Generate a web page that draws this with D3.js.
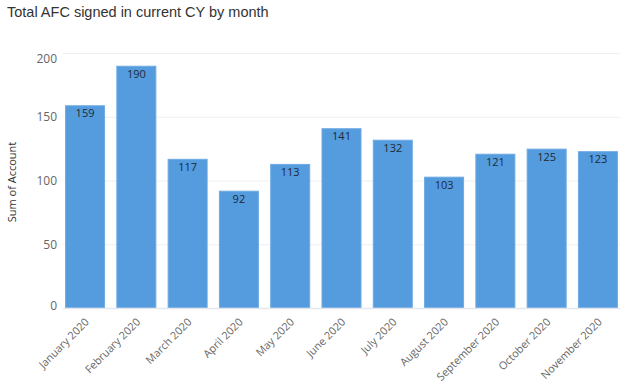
<!DOCTYPE html>
<html><head><meta charset="utf-8">
<script src="https://cdn.jsdelivr.net/npm/d3@7"></script>
<style>body{margin:0;background:#fff;}svg{display:block;}</style>
</head><body>
<svg id="c" width="620" height="385"></svg>
<script>
const months = ["January 2020","February 2020","March 2020","April 2020","May 2020","June 2020","July 2020","August 2020","September 2020","October 2020","November 2020"];
const values = [159,190,117,92,113,141,132,103,121,125,123];
const yTicks = [0,50,100,150,200];
const title = "Total AFC signed in current CY by month";
const yTitle = "Sum of Account";

const svg = d3.select("#c");
const x = d3.scaleBand().domain(months).range([63,620]).paddingInner(0.22).paddingOuter(0.04);
const y = d3.scaleLinear().domain([0,200]).range([308,53]);
const font = "'Open Sans', sans-serif";

svg.append("text").attr("x",7).attr("y",17).attr("font-family","'Liberation Sans', Arial, sans-serif")
  .attr("font-size",14.5).attr("fill","#333").text(title);

// gridlines
svg.append("g").selectAll("line").data(yTicks.filter(d=>d>0)).join("line")
  .attr("x1",63).attr("x2",620).attr("y1",d=>y(d)+0.5).attr("y2",d=>y(d)+0.5)
  .attr("stroke","#edeff3").attr("stroke-width",1);

// y axis labels
const ya = svg.append("g").attr("transform","translate(57,0)")
  .call(d3.axisLeft(y).tickValues(yTicks).tickSize(0).tickPadding(0));
ya.select(".domain").remove();
ya.selectAll("text").attr("font-family",font).attr("font-size",12).attr("fill","#666")
  .attr("dy",d=>d===200?"0.75em":d===0?"0.1em":"0.35em");

svg.append("text").attr("transform","translate(16,182) rotate(-90)").attr("text-anchor","middle")
  .attr("font-family",font).attr("font-size",11).attr("fill","#333").text(yTitle);

// bars
svg.append("g").selectAll("rect").data(values).join("rect")
  .attr("x",(d,i)=>x(months[i])+0.5).attr("width",x.bandwidth()-1)
  .attr("y",d=>y(d)+0.5).attr("height",d=>y(0)-y(d)-0.5)
  .attr("fill","#549cdd").attr("stroke","#6eaae3").attr("stroke-width",1);

// value labels
svg.append("g").selectAll("text").data(values).join("text")
  .attr("x",(d,i)=>x(months[i])+x.bandwidth()/2).attr("y",d=>y(d)+12)
  .attr("text-anchor","middle").attr("font-family",font).attr("font-size",11)
  .attr("fill","#1f2a36").text(d=>d);

// baseline
svg.append("line").attr("x1",63).attr("x2",620).attr("y1",308.5).attr("y2",308.5)
  .attr("stroke","#e4e8ee").attr("stroke-width",1.5);

// x axis
const xa = svg.append("g").attr("transform","translate(0,312)")
  .call(d3.axisBottom(x).tickSize(0).tickPadding(0));
xa.select(".domain").remove();
xa.selectAll("text").attr("font-family",font).attr("font-size",10.8).attr("fill","#666")
  .attr("text-anchor","end").attr("dy","0.35em").attr("dx",0)
  .attr("transform","translate(2,8) rotate(-45)").attr("y",0).attr("x",0);
</script>
</body></html>
